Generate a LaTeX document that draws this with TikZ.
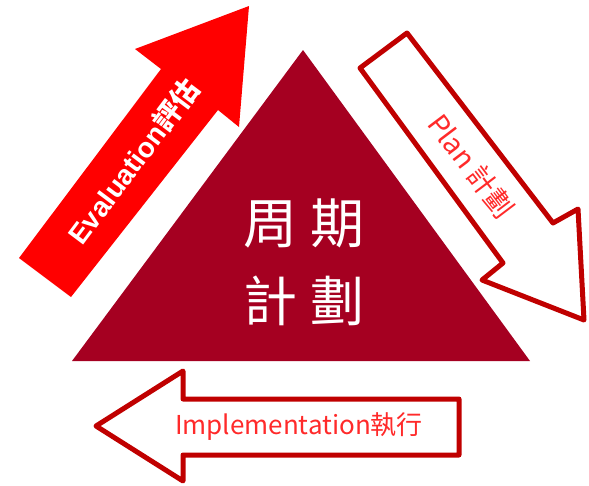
\documentclass[tikz,border=0pt]{standalone}
\usepackage{fontspec}
\newfontfamily\cjk{Noto Sans CJK TC}
\newfontfamily\arialb{Liberation Sans}
\definecolor{tri}{HTML}{A50021}
\definecolor{arrred}{HTML}{FF0000}
\definecolor{outl}{HTML}{C00000}
\definecolor{txtred}{HTML}{FF2A2A}
\tikzset{
  outarrow/.style={draw=outl, line width=5pt, line join=round, fill=white},
  thintext/.style={text=txtred, inner sep=0pt},
}
\begin{document}
\begin{tikzpicture}[x=1pt, y=-1pt]
\useasboundingbox (0,0) rectangle (589,485);
% triangle
\fill[tri] (72,361) -- (303,50) -- (530,361) -- cycle;
% red evaluation arrow
\fill[arrred] (249,6) -- (135,49) -- (161,69) -- (19,258) -- (71,297) -- (218,110) -- (239,127) -- cycle;
% plan arrow
\draw[outarrow] (407,33) -- (360,68) -- (503,263) -- (482,280) -- (584,320) -- (578,209) -- (553,223) -- cycle;
% implementation arrow
\draw[outarrow] (96,426) -- (183,371) -- (183,399) -- (459,399) -- (459,455) -- (183,455) -- (183,481) -- cycle;
% texts
\node[font=\cjk\fontsize{54}{78}\selectfont, text=white, align=center, inner sep=0pt] (center) at (304,262) {周\hspace{14pt}期\\計\hspace{14pt}劃};
\node[font=\fontsize{28}{28}\selectfont, text=white, rotate=53.1, inner sep=0pt] (eval) at (133.5,161.5) {{\arialb\bfseries Evaluation}{\cjk\bfseries 評估}};
\node[font=\cjk\fontsize{28}{28}\selectfont, thintext, rotate=-52.9] (plan) at (471,166) {Plan 計劃};
\node[font=\cjk\fontsize{26}{26}\selectfont, thintext] (impl) at (299,427) {Implementation執行};
\end{tikzpicture}
\end{document}
